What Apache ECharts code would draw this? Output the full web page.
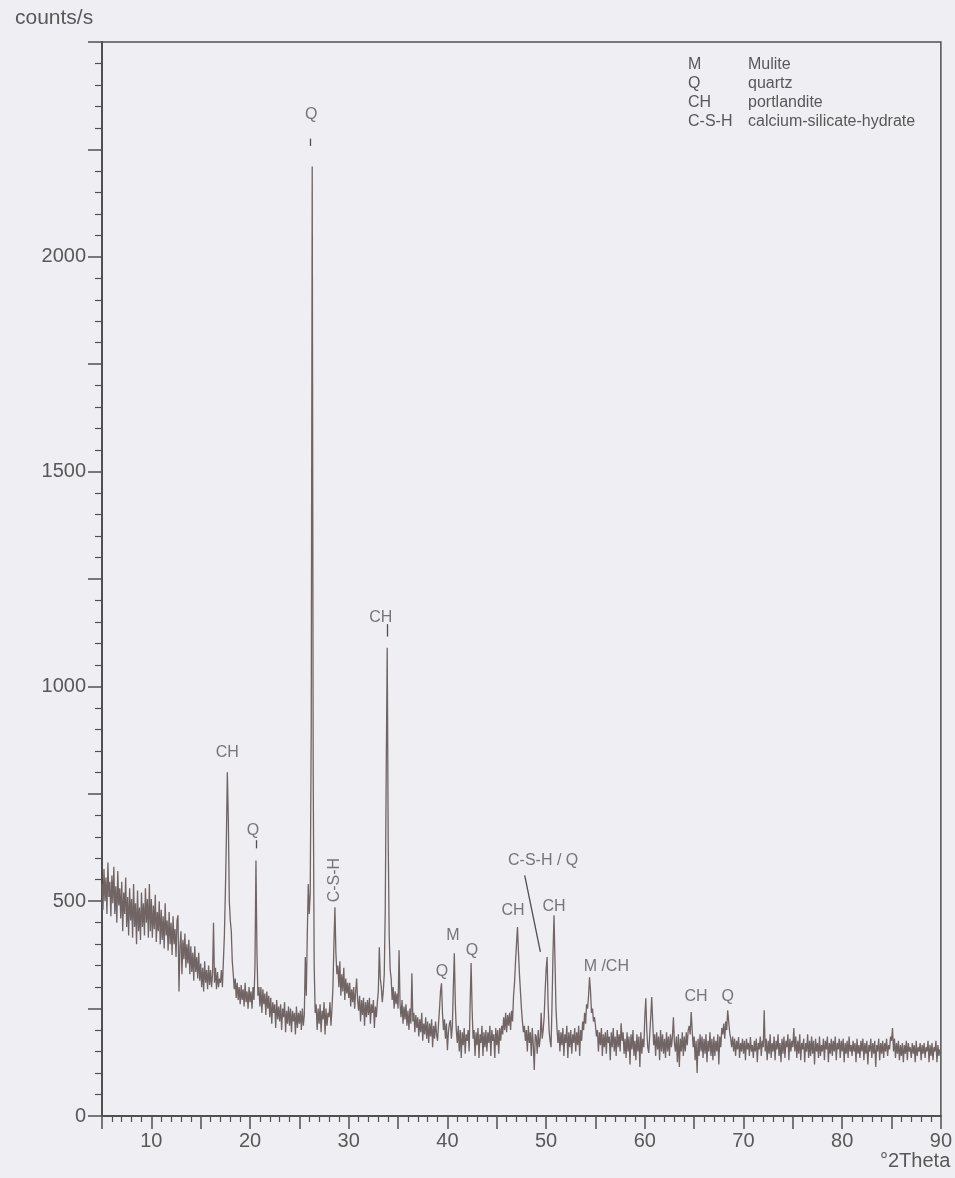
<!DOCTYPE html>
<html>
<head>
<meta charset="utf-8">
<script src="https://cdn.jsdelivr.net/npm/echarts@6/dist/echarts.min.js"></script>
<style>
html, body { margin: 0; padding: 0; background: #eeeef3; }
#chart { width: 955px; height: 1178px; }
</style>
</head>
<body>
<div id="chart"></div>
<script>
// scan: 5.0 .. 90.0 °2Theta, step 0.1, counts/s (one row = one degree)
var scanStart = 5.0;
var scanStep = 0.1;

var counts05 = [
  540,480,575,500,555,470,590,510,545,465,
  560,495,580,470,535,450,570,490,530,460,
  545,430,520,470,555,440,510,420,530,455,
  505,415,540,440,495,400,525,430,485,410,
  520,440,495,420,530,450,505,415,540,430];
var counts10 = [
  505,415,490,435,515,405,475,430,500,400,
  480,410,465,390,495,420,455,385,475,400,
  450,375,465,400,435,370,455,467,290,395,
  430,330,410,365,425,345,400,355,410,330,
  395,335,380,315,395,335,370,320,380,315];
var counts15 = [
  355,300,345,290,360,310,340,295,350,305,
  340,300,330,450,310,345,295,335,300,320,
  310,340,300,360,420,520,640,800,690,500,
  455,430,360,330,295,320,275,310,270,300,
  260,305,270,295,255,310,265,290,250,300];
var counts20 = [
  265,290,250,300,270,350,595,380,280,300,
  255,300,240,295,260,285,235,290,250,280,
  230,275,215,265,240,260,205,270,225,255,
  220,260,200,250,230,265,195,245,215,255,
  210,250,195,245,220,240,190,255,205,240];
var counts25 = [
  215,245,200,250,210,235,370,280,420,540,
  470,520,900,2210,800,350,240,260,200,250,
  215,260,195,245,225,265,190,250,210,240,
  230,265,210,250,300,400,486,380,330,350,
  300,360,280,330,290,345,270,320,285,310];
var counts30 = [
  275,310,255,295,265,300,250,290,320,270,
  245,280,220,270,235,275,210,265,230,270,
  235,275,215,260,240,270,205,255,230,265,
  290,393,320,300,265,290,330,480,800,1090,
  640,420,340,320,270,300,250,290,260,285];
var counts35 = [
  250,386,260,230,270,215,255,225,260,210,
  245,200,250,215,332,220,240,195,235,205,
  230,185,225,195,240,175,215,190,230,180,
  220,170,215,185,225,160,210,180,220,190,
  175,215,250,290,309,240,200,225,180,215];
var counts40 = [
  153,195,215,223,180,210,300,379,260,200,
  170,210,150,200,135,195,165,205,145,190,
  175,200,150,260,356,250,180,200,140,195,
  165,205,135,190,170,210,140,195,160,200,
  150,195,170,210,140,200,175,190,135,205];
var counts45 = [
  165,200,145,205,175,210,190,230,200,240,
  195,235,210,240,200,245,220,280,310,360,
  400,440,380,330,290,250,220,195,210,175,
  200,150,210,170,195,140,205,165,107,190,
  185,145,200,160,180,240,180,200,230,290];
var counts50 = [
  340,370,260,200,175,160,260,380,467,360,
  250,205,170,200,150,195,165,205,140,190,
  170,210,135,195,160,200,145,190,170,205,
  150,195,165,210,140,200,175,220,200,240,
  215,260,250,280,323,290,240,250,220,230];
var counts55 = [
  210,185,200,150,195,165,205,140,190,160,
  195,145,200,170,185,130,195,160,205,150,
  185,140,200,160,190,150,216,175,195,145,
  180,135,195,150,185,120,190,155,200,140,
  175,130,190,150,185,114,195,145,180,160];
var counts60 = [
  230,274,200,160,147,190,230,277,220,165,
  190,140,195,155,185,130,200,150,190,145,
  180,135,195,150,185,140,190,160,185,230,
  170,150,185,125,190,114,180,150,195,140,
  185,150,195,165,200,210,190,242,200,160];
var counts65 = [
  185,130,175,100,180,140,190,150,185,135,
  180,145,190,125,175,150,195,140,180,130,
  185,140,175,150,190,120,185,160,205,190,
  215,180,220,200,246,220,195,180,160,185,
  150,180,140,175,155,184,135,170,150,180];
var counts70 = [
  145,175,130,180,155,170,140,184,150,165,
  135,175,150,180,125,170,155,185,140,175,
  160,246,150,180,130,175,145,190,135,170,
  150,185,130,175,155,190,140,170,125,180,
  145,185,135,175,160,190,130,180,150,175];
var counts75 = [
  160,205,150,185,135,175,145,190,130,170,
  155,180,125,170,150,190,135,175,140,185,
  145,175,120,180,150,170,135,185,140,165,
  150,180,130,175,155,185,125,170,145,180,
  140,175,150,185,130,170,155,180,135,175];
var counts80 = [
  150,180,125,170,145,175,135,185,150,165,
  140,175,150,170,125,180,145,165,135,175,
  150,180,130,170,145,175,120,165,150,180,
  135,170,145,175,114,165,150,180,130,170,
  145,175,135,170,150,180,140,165,155,185];
var counts85 = [
  175,205,150,180,135,170,145,175,130,165,
  140,170,125,165,145,175,130,170,150,160,
  135,170,145,165,125,175,140,160,150,170,
  130,165,145,170,135,160,150,175,125,165,
  140,170,130,160,150,175,125,165,140,155,
  150];

// phase labels over the peaks
var peakLabels = ['Q', 'CH', 'CH', 'Q', 'C-S-H', 'Q', 'M', 'Q', 'CH', 'C-S-H / Q', 'CH', 'M /CH', 'CH', 'Q'];
var peakLabelX = [26.2, 33.25, 17.7, 20.3, 28.55, 39.45, 40.55, 42.5, 46.65, 49.7, 50.8, 56.1, 65.2, 68.4];
var peakLabelY = [2330, 1160, 845, 665, 549, 336, 421, 386, 479, 595, 487, 347, 277, 277];

// short leader strokes [x1, y1, x2, y2]
var leaders = [
  [26.15, 2275, 26.15, 2258],
  [33.86, 1145, 33.86, 1116],
  [20.6, 642, 20.6, 623],
  [47.83, 560, 49.42, 382]
];

var legendCodes = ['M', 'Q', 'CH', 'C-S-H'];
var legendNames = ['Mulite', 'quartz', 'portlandite', 'calcium-silicate-hydrate'];

var allCounts = [].concat(counts05, counts10, counts15, counts20, counts25, counts30, counts35,
  counts40, counts45, counts50, counts55, counts60, counts65, counts70, counts75, counts80, counts85);
var scanData = allCounts.map(function (c, i) {
  return [Math.round((scanStart + i * scanStep) * 10) / 10, c];
});

var textColor = '#585858';
var axisColor = '#505050';
var fontName = 'Liberation Sans, Arial, sans-serif';

var labelData = peakLabels.map(function (name, i) {
  var item = { name: name, value: [peakLabelX[i], peakLabelY[i]] };
  if (name === 'C-S-H') item.label = { rotate: 90 };
  return item;
});

var leaderData = leaders.map(function (l) {
  return [{ coord: [l[0], l[1]] }, { coord: [l[2], l[3]] }];
});

var graphics = [
  { type: 'text', left: 15, top: 8, style: { text: 'counts/s', fontSize: 21, fill: textColor, fontFamily: fontName } },
  { type: 'text', left: 880, top: 1151, style: { text: '°2Theta', fontSize: 20, fill: textColor, fontFamily: fontName } }
];
legendCodes.forEach(function (code, i) {
  graphics.push({ type: 'text', left: 688, top: 57 + i * 19, style: { text: code, fontSize: 16, fill: textColor, fontFamily: fontName } });
  graphics.push({ type: 'text', left: 748, top: 57 + i * 19, style: { text: legendNames[i], fontSize: 16, fill: textColor, fontFamily: fontName } });
});

var chart = echarts.init(document.getElementById('chart'));
var option = {
  backgroundColor: '#eeeef3',
  animation: false,
  grid: {
    left: 102, right: 14, top: 42, bottom: 62,
    show: true, borderColor: axisColor, borderWidth: 1.5, backgroundColor: 'transparent'
  },
  xAxis: {
    type: 'value',
    min: 5, max: 90, interval: 5,
    axisLine: { show: true, lineStyle: { color: axisColor, width: 2 } },
    axisTick: { show: true, length: 13, lineStyle: { color: axisColor, width: 1.5 } },
    minorTick: { show: true, splitNumber: 5, length: 6, lineStyle: { color: axisColor, width: 1.2 } },
    splitLine: { show: false },
    axisLabel: {
      margin: 15, fontSize: 20, color: textColor, fontFamily: fontName,
      formatter: function (v) { return v % 10 === 0 ? String(v) : ''; }
    }
  },
  yAxis: {
    type: 'value',
    min: 0, max: 2500, interval: 250,
    axisLine: { show: true, lineStyle: { color: axisColor, width: 2 } },
    axisTick: { show: true, length: 14, lineStyle: { color: axisColor, width: 1.5 } },
    minorTick: { show: true, splitNumber: 5, length: 7, lineStyle: { color: axisColor, width: 1.2 } },
    splitLine: { show: false },
    axisLabel: {
      margin: 16, fontSize: 20, color: textColor, fontFamily: fontName,
      formatter: function (v) { return (v % 500 === 0 && v < 2500) ? String(v) : ''; }
    }
  },
  series: [
    {
      name: 'scan',
      type: 'line',
      data: scanData,
      symbol: 'none',
      sampling: null,
      lineStyle: { color: '#706464', width: 1.3 },
      markLine: {
        silent: true,
        symbol: 'none',
        label: { show: false },
        lineStyle: { color: axisColor, width: 1.3, type: 'solid' },
        data: leaderData
      }
    },
    {
      name: 'phases',
      type: 'scatter',
      data: labelData,
      symbolSize: 1,
      itemStyle: { color: 'transparent' },
      silent: true,
      label: {
        show: true, position: 'inside', formatter: '{b}',
        fontSize: 16, color: textColor, fontFamily: fontName
      }
    }
  ],
  graphic: graphics
};
chart.setOption(option);
</script>
</body>
</html>
